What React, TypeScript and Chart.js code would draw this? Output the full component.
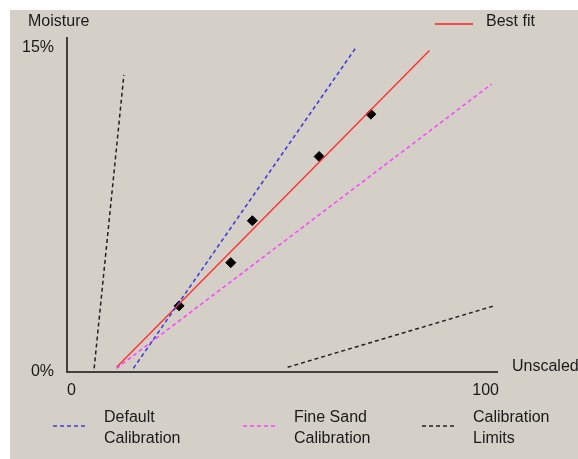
import React, { useEffect, useRef } from "react";
import { Chart, registerables } from "chart.js";

Chart.register(...registerables);

// ---- data ----
const xTicks = [0, 100];
const xTickLabels = ["0", "100"];
const yTicks = [0, 15];
const yTickLabels = ["0%", "15%"];

const measuredX = [26, 38, 43, 58.5, 70.5];
const measuredY = [3.06, 5.06, 7.0, 9.97, 11.93];

const bestFitX = [11.5, 84.1];
const bestFitY = [0.22, 14.87];

const defaultCalX = [15.4, 67.0];
const defaultCalY = [0.17, 15.0];

const fineSandX = [11.5, 98.5];
const fineSandY = [0.17, 13.32];

const limitLowX = [6.3, 13.2];
const limitLowY = [0.17, 13.75];
const limitHighX = [51.2, 99.1];
const limitHighY = [0.22, 3.06];

const legendLabels = [
  ["Default", "Calibration"],
  ["Fine Sand", "Calibration"],
  ["Calibration", "Limits"],
];
const legendColors = ["#3c3cdc", "#ff40ff", "#222222"];
const bestFitLabel = "Best fit";
const yAxisTitle = "Moisture";
const xAxisTitle = "Unscaled";

const pts = (xs: number[], ys: number[]) => xs.map((x, i) => ({ x, y: ys[i] }));

const FONT = "16px 'Liberation Sans', Arial, sans-serif";
const TEXT = "#1a1a1a";
const DASH = [4, 3];

const decorPlugin = {
  id: "decor",
  beforeDraw(chart: any) {
    const ctx = chart.ctx;
    ctx.save();
    ctx.fillStyle = "#ffffff";
    ctx.fillRect(0, 0, chart.width, chart.height);
    ctx.fillStyle = "#d4d0c8";
    ctx.fillRect(10, 10, chart.width - 10, chart.height - 10);
    ctx.restore();
  },
  beforeDatasetsDraw(chart: any) {
    const ctx = chart.ctx;
    const xs = chart.scales.x;
    const ys = chart.scales.y;
    const x0 = xs.getPixelForValue(0);
    const y0 = ys.getPixelForValue(0);
    ctx.save();
    ctx.strokeStyle = "#111";
    ctx.lineWidth = 1.5;
    ctx.beginPath();
    ctx.moveTo(x0, chart.chartArea.top);
    ctx.lineTo(x0, y0);
    ctx.lineTo(chart.chartArea.right, y0);
    ctx.stroke();
    ctx.restore();
  },
  afterDraw(chart: any) {
    const ctx = chart.ctx;
    const xs = chart.scales.x;
    const ys = chart.scales.y;
    ctx.save();
    ctx.font = FONT;
    ctx.fillStyle = TEXT;
    ctx.textBaseline = "middle";

    ctx.textAlign = "right";
    yTicks.forEach((v, i) => {
      ctx.fillText(yTickLabels[i], xs.getPixelForValue(0) - 13, ys.getPixelForValue(v));
    });
    xTicks.forEach((v, i) => {
      ctx.textAlign = i === 0 ? "left" : "right";
      ctx.fillText(xTickLabels[i], xs.getPixelForValue(v) + (i === 0 ? 0 : 1), ys.getPixelForValue(0) + 19);
    });
    ctx.textAlign = "left";
    ctx.fillText(yAxisTitle, 28, 22);
    ctx.fillText(xAxisTitle, 512, 367);

    ctx.strokeStyle = "#ff2020";
    ctx.lineWidth = 1.5;
    ctx.beginPath();
    ctx.moveTo(435, 24);
    ctx.lineTo(473, 24);
    ctx.stroke();
    ctx.fillText(bestFitLabel, 486, 22);

    const lineStarts = [53, 243, 422];
    lineStarts.forEach((lx, i) => {
      ctx.strokeStyle = legendColors[i];
      ctx.lineWidth = 1.5;
      ctx.setLineDash(DASH);
      ctx.beginPath();
      ctx.moveTo(lx, 426);
      ctx.lineTo(lx + 35, 426);
      ctx.stroke();
      ctx.setLineDash([]);
      ctx.fillText(legendLabels[i][0], lx + 51, 418);
      ctx.fillText(legendLabels[i][1], lx + 51, 439);
    });
    ctx.restore();
  },
};

export default function App() {
  const ref = useRef<HTMLCanvasElement | null>(null);
  useEffect(() => {
    if (!ref.current) return;
    const dashed = (label: string, data: any, color: string) => ({
      type: "line" as const,
      label,
      data,
      borderColor: color,
      borderWidth: 1.5,
      borderDash: DASH,
      pointRadius: 0,
    });
    const chart = new Chart(ref.current, {
      type: "scatter",
      data: {
        datasets: [
          dashed("Default Calibration", pts(defaultCalX, defaultCalY), "#3c3cdc"),
          dashed("Fine Sand Calibration", pts(fineSandX, fineSandY), "#ff40ff"),
          dashed("Calibration Limits", pts(limitLowX, limitLowY), "#222222"),
          dashed("Calibration Limits (upper)", pts(limitHighX, limitHighY), "#222222"),
          {
            type: "line",
            label: "Best fit",
            data: pts(bestFitX, bestFitY),
            borderColor: "#ff3030",
            borderWidth: 1.4,
            pointRadius: 0,
          },
          {
            type: "scatter",
            label: "Measured",
            data: pts(measuredX, measuredY),
            backgroundColor: "#000",
            borderColor: "#000",
            pointStyle: "rectRot",
            pointRadius: 5,
          },
        ],
      },
      options: {
        responsive: false,
        animation: false,
        events: [],
        layout: { padding: { left: 67, right: 80, top: 37, bottom: 87 } },
        plugins: { legend: { display: false }, tooltip: { enabled: false } },
        scales: {
          x: { type: "linear", min: 0, max: 100, display: false },
          y: { type: "linear", min: 0, max: 15.5, display: false },
        },
      },
      plugins: [decorPlugin],
    });
    return () => chart.destroy();
  }, []);
  return (
    <div style={{ position: "absolute", left: 0, top: 0, width: 578, height: 459 }}>
      <canvas ref={ref} width={578} height={459} style={{ display: "block" }} />
    </div>
  );
}
